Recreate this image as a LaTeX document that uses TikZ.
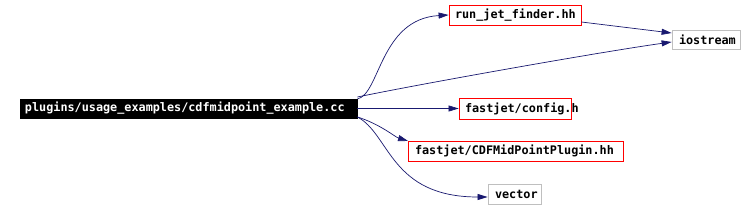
\documentclass[tikz,border=0pt]{standalone}
\usepackage{fontspec}
\setmonofont{DejaVu Sans Mono}
\usetikzlibrary{arrows.meta}
\definecolor{edgeblue}{RGB}{25,25,112}
\definecolor{boxgray}{RGB}{191,191,191}
\newcommand{\lbox}[3]{\makebox[#1bp][l]{\hspace*{#2bp}#3}}
\tikzset{
  box/.style={draw, line width=0.8bp, inner sep=0pt, font=\ttfamily\bfseries\fontsize{11.8bp}{13bp}\selectfont, anchor=center},
  redbox/.style={box, draw=red},
  graybox/.style={box, draw=boxgray},
  mainbox/.style={box, draw=black, fill=black, text=white},
  edge/.style={draw=edgeblue, line width=0.7bp, -{Triangle[length=10bp,width=6bp]}}
}
\begin{document}
\begin{tikzpicture}[x=1bp,y=1bp]
\useasboundingbox[fill=white] (0,0) rectangle (756,209);
\node[mainbox, minimum height=19bp] (main) at (188.5,100.5) {\lbox{337}{5}{plugins/usage\_examples/cdfmidpoint\_example.cc}};
\node[redbox, minimum height=20bp] (run) at (515,194) {\lbox{132}{6}{run\_jet\_finder.hh}};
\node[graybox, minimum height=19bp] (ios) at (706,169.5) {\lbox{68}{7}{iostream}};
\node[redbox, minimum height=21bp] (cfg) at (515,100.5) {\lbox{112}{6}{fastjet/config.h}};
\node[redbox, minimum height=20bp] (cdf) at (515.5,58) {\lbox{215}{7}{fastjet/CDFMidPointPlugin.hh}};
\node[graybox, minimum height=20bp] (vec) at (514.5,15) {\lbox{53}{7}{vector}};
\coordinate (m1) at (main.east |- 0,110);
\coordinate (m2) at (main.east |- 0,112);
\coordinate (m3) at (main.east |- 0,92);
\draw[edge] (m1) .. controls (380,115) and (380,190) .. (run.west);
\draw[edge] (m2) .. controls (420,125) and (600,157) .. (ios.west |- 0,167);
\draw[edge] (run.east |- 0,187) -- (ios.west |- 0,176);
\draw[edge] (main.east |- 0,100.5) -- (cfg.west);
\draw[edge] (m3) .. controls (380,85) and (395,72) .. (408,68);
\draw[edge] (m3) .. controls (390,75) and (390,12) .. (vec.west |- 0,12);
\end{tikzpicture}
\end{document}
